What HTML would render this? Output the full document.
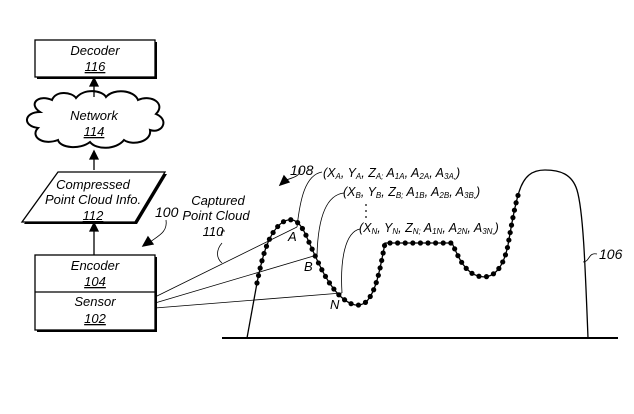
<!DOCTYPE html>
<html><head><meta charset="utf-8"><style>
body{margin:0;background:#fff}
svg{display:block}
text{font-family:"Liberation Sans",sans-serif;font-style:italic;fill:#000}
</style></head><body>
<svg id="s" width="634" height="414" viewBox="0 0 634 414" xmlns="http://www.w3.org/2000/svg">
<defs><marker id="ah" markerWidth="8" markerHeight="8" refX="4" refY="4" orient="auto"><path d="M0,0 L8,4 L0,8 z" fill="#000"/></marker></defs>
<g stroke="#000" fill="none" stroke-width="1.3">
<!-- decoder -->
<rect x="37" y="42" width="120" height="37" fill="#000" stroke="none"/>
<rect x="35" y="40" width="120" height="37" fill="#fff"/>
<!-- cloud -->
<path d="M40,112 C28,104 38,94 52,100 C56,90 72,92 76,98 C84,88 102,90 106,97 C114,88 134,90 138,100 C152,94 166,104 156,114 C170,120 162,134 150,130 C152,142 132,146 124,140 C116,150 96,150 90,142 C80,150 60,148 58,140 C42,146 30,136 38,128 C22,126 24,112 40,112 Z" fill="#fff" stroke-width="2"/>
<!-- parallelogram -->
<path d="M60,174 L167,174 L137,224 L24,224 Z" fill="#000" stroke="none"/>
<path d="M58,172 L165,172 L135,222 L22,222 Z" fill="#fff"/>
<!-- encoder/sensor -->
<rect x="37" y="257" width="120" height="75" fill="#000" stroke="none"/>
<rect x="35" y="255" width="120" height="75" fill="#fff"/>
<line x1="35" y1="292" x2="155" y2="292"/>
<!-- arrows -->
<line x1="94" y1="97" x2="94" y2="84"/><path d="M90,86 L94,78 L98,86 Z" fill="#000"/>
<line x1="94" y1="170" x2="94" y2="157"/><path d="M90,159 L94,151 L98,159 Z" fill="#000"/>
<line x1="94" y1="255" x2="94" y2="229"/><path d="M90,231 L94,223 L98,231 Z" fill="#000"/>
<!-- 100 arrow -->
<path d="M166,220 C168,232 158,236 150,242" stroke-width="0.8"/><path d="M143,246 L148,237 L153,244 Z" fill="#000"/>
<!-- 108 arrow -->
<path d="M300,168 C302,176 292,178 286,180" stroke-width="0.8"/><path d="M280,185 L284,176 L289,182 Z" fill="#000"/>
<!-- sensor rays -->
<g stroke-width="0.8">
<line x1="155" y1="297" x2="297" y2="227"/>
<line x1="155" y1="303" x2="317" y2="255"/>
<line x1="155" y1="308" x2="342" y2="293"/>
<path d="M222,243 C216,250 216,258 222,263"/>
<path d="M222,236 C220,230 225,228 224,232"/>
</g>
<!-- ground -->
<line x1="222" y1="338" x2="618" y2="338" stroke-width="2"/>
<!-- terrain -->
<path d="M247,338 L257,283"/>
<path id="dp" d="M257,283 C262,258 268,232 283,222 C295,215 302,225 308,240 C318,262 326,282 340,296 C350,305 358,308 366,302 C376,292 380,270 385,243 L452,243 C458,256 464,272 478,276 C492,280 503,270 508,245 C512,222 515,205 519,192"/>
<path d="M519,192 C524,176 532,170 545,170 C560,170 572,174 577,190 C583,210 585,260 588,338"/>
<!-- 106 leader -->
<path d="M583,262 C590,262 588,252 597,254" stroke-width="0.8"/>
<!-- leaders -->
<g stroke-width="0.8">
<path d="M297,227 C300,200 305,175 322,172"/>
<path d="M317,255 C318,220 325,195 344,193"/>
<path d="M342,293 C340,260 345,232 360,229"/>
</g>
<g id="dots" fill="#000" stroke="none"></g>
<circle cx="366" cy="205" r="0.9" fill="#000" stroke="none"/>
<circle cx="366" cy="211" r="0.9" fill="#000" stroke="none"/>
<circle cx="366" cy="217" r="0.9" fill="#000" stroke="none"/>
</g>
<text x="95" y="55" font-size="13" text-anchor="middle">Decoder</text>
<text x="95" y="71" font-size="13" text-anchor="middle" text-decoration="underline">116</text>
<text x="94" y="120" font-size="13" text-anchor="middle">Network</text>
<text x="94" y="136" font-size="13" text-anchor="middle" text-decoration="underline">114</text>
<text x="93" y="189" font-size="13" text-anchor="middle">Compressed</text>
<text x="93" y="204" font-size="13" text-anchor="middle">Point Cloud Info.</text>
<text x="93" y="220" font-size="13" text-anchor="middle" text-decoration="underline">112</text>
<text x="95" y="270" font-size="13" text-anchor="middle">Encoder</text>
<text x="95" y="286" font-size="13" text-anchor="middle" text-decoration="underline">104</text>
<text x="95" y="306" font-size="13" text-anchor="middle">Sensor</text>
<text x="95" y="323" font-size="13" text-anchor="middle" text-decoration="underline">102</text>
<text x="155" y="217" font-size="14">100</text>
<text x="218" y="205" font-size="13" text-anchor="middle">Captured</text>
<text x="216" y="220" font-size="13" text-anchor="middle">Point Cloud</text>
<text x="213" y="236" font-size="13" text-anchor="middle">110</text>
<text x="290" y="175" font-size="14">108</text>
<text x="599" y="259" font-size="14">106</text>
<text x="288" y="241" font-size="13">A</text>
<text x="304" y="271" font-size="13">B</text>
<text x="330" y="309" font-size="13">N</text>
<text x="323" y="177" font-size="12.5">(X<tspan font-size="8" dy="2">A</tspan><tspan dy="-2">, Y</tspan><tspan font-size="8" dy="2">A</tspan><tspan dy="-2">, Z</tspan><tspan font-size="8" dy="2">A;</tspan><tspan dy="-2"> A</tspan><tspan font-size="8" dy="2">1A</tspan><tspan dy="-2">, A</tspan><tspan font-size="8" dy="2">2A</tspan><tspan dy="-2">, A</tspan><tspan font-size="8" dy="2">3A,</tspan><tspan dy="-2">)</tspan></text>
<text x="343" y="196" font-size="12.5">(X<tspan font-size="8" dy="2">B</tspan><tspan dy="-2">, Y</tspan><tspan font-size="8" dy="2">B</tspan><tspan dy="-2">, Z</tspan><tspan font-size="8" dy="2">B;</tspan><tspan dy="-2"> A</tspan><tspan font-size="8" dy="2">1B</tspan><tspan dy="-2">, A</tspan><tspan font-size="8" dy="2">2B</tspan><tspan dy="-2">, A</tspan><tspan font-size="8" dy="2">3B,</tspan><tspan dy="-2">)</tspan></text>
<text x="359" y="232" font-size="12.5">(X<tspan font-size="8" dy="2">N</tspan><tspan dy="-2">, Y</tspan><tspan font-size="8" dy="2">N</tspan><tspan dy="-2">, Z</tspan><tspan font-size="8" dy="2">N;</tspan><tspan dy="-2"> A</tspan><tspan font-size="8" dy="2">1N</tspan><tspan dy="-2">, A</tspan><tspan font-size="8" dy="2">2N</tspan><tspan dy="-2">, A</tspan><tspan font-size="8" dy="2">3N,</tspan><tspan dy="-2">)</tspan></text>
</svg>
<script>
var p=document.getElementById('dp'),g=document.getElementById('dots'),L=p.getTotalLength();
for(var d=0;d<=L;d+=7.6){var q=p.getPointAtLength(d);var c=document.createElementNS('http://www.w3.org/2000/svg','circle');c.setAttribute('cx',q.x);c.setAttribute('cy',q.y);c.setAttribute('r',2.6);g.appendChild(c);}
</script>
</body></html>
